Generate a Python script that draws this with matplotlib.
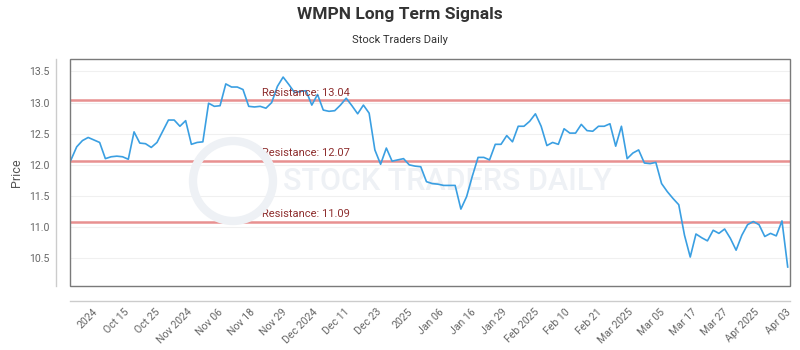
import numpy as np
import matplotlib
matplotlib.use("Agg")
import matplotlib.pyplot as plt
from matplotlib.patches import Circle, Rectangle
import matplotlib.transforms as mtrans

plt.rcParams['font.family'] = ['Roboto', 'DejaVu Sans']

title = "WMPN Long Term Signals"
subtitle = "Stock Traders Daily"
y_label = "Price"

prices = [
    12.08, 12.29, 12.39, 12.44, 12.40, 12.36, 12.10, 12.13, 12.14, 12.13,
    12.09, 12.53, 12.35, 12.34, 12.28, 12.36, 12.54, 12.72, 12.72, 12.62,
    12.71, 12.33, 12.36, 12.37, 12.99, 12.94, 12.95, 13.30, 13.25, 13.25,
    13.21, 12.94, 12.93, 12.94, 12.91, 13.00, 13.26, 13.41, 13.29, 13.16,
    13.18, 13.19, 12.96, 13.13, 12.88, 12.86, 12.87, 12.96, 13.07, 12.95,
    12.82, 12.96, 12.83, 12.24, 12.01, 12.27, 12.06, 12.08, 12.10, 12.00,
    11.98, 11.97, 11.73, 11.70, 11.69, 11.67, 11.67, 11.67, 11.29, 11.49,
    11.82, 12.12, 12.12, 12.08, 12.33, 12.33, 12.47, 12.37, 12.62, 12.62,
    12.70, 12.82, 12.62, 12.31, 12.36, 12.33, 12.58, 12.51, 12.51, 12.65,
    12.55, 12.54, 12.62, 12.62, 12.66, 12.30, 12.62, 12.10, 12.19, 12.24,
    12.03, 12.02, 12.04, 11.70, 11.57, 11.46, 11.36, 10.87, 10.52, 10.89,
    10.83, 10.78, 10.95, 10.90, 10.97, 10.82, 10.63, 10.87, 11.04, 11.09,
    11.04, 10.85, 10.90, 10.86, 11.10, 10.36,
]

resistance_levels = [13.04, 12.07, 11.09]

x_tick_labels = [
    "2024", "Oct 15", "Oct 25", "Nov 2024", "Nov 06", "Nov 18", "Nov 29",
    "Dec 2024", "Dec 11", "Dec 23", "2025", "Jan 06", "Jan 16", "Jan 29",
    "Feb 2025", "Feb 10", "Feb 21", "Mar 2025", "Mar 05", "Mar 17", "Mar 27",
    "Apr 2025", "Apr 03",
]
y_ticks = [10.5, 11.0, 11.5, 12.0, 12.5, 13.0, 13.5]

W, H = 800, 350
fig = plt.figure(figsize=(W / 100, H / 100), dpi=100)
fig.patch.set_facecolor('white')

L, R, T, B = 70, 790, 59, 286
ax = fig.add_axes([L / W, 1 - B / H, (R - L) / W, (B - T) / H])

# spines first (set_position resets ticks)
for s in ['top', 'right']:
    ax.spines[s].set_visible(False)
ax.spines['left'].set_position(('outward', 10))
ax.spines['bottom'].set_position(('outward', 11))
for s in ['left', 'bottom']:
    ax.spines[s].set_color('#cccccc')
    ax.spines[s].set_linewidth(1.0)

x = np.arange(len(prices))
n = len(prices)
ax.plot(x, prices, color='#3a9fe2', lw=1.2, zorder=5)

for lvl in resistance_levels:
    ax.axhline(lvl, color='#e89090', lw=1.8, zorder=3)
    ax.text(0.266, lvl + 0.035, f"Resistance: {lvl:.2f}",
            transform=mtrans.blended_transform_factory(ax.transAxes, ax.transData),
            color='#8e2f2f', fontsize=8, va='bottom', ha='left', zorder=6)

ax.set_xlim(-0.17, n - 1 + 0.4)
ax.set_ylim(10.055, 13.70)

ax.set_yticks(y_ticks)
ax.set_yticklabels([f"{v:.1f}" for v in y_ticks])
ax.yaxis.grid(True, color='#f0f0f0', lw=0.8, zorder=0)
ax.set_axisbelow(True)

ax.set_xticks(np.linspace(3.66, n - 1.3, len(x_tick_labels)))
ax.set_xticklabels(x_tick_labels)
ax.tick_params(axis='both', length=0, colors='#666666', labelsize=7.6)
ax.tick_params(axis='y', pad=5)
ax.tick_params(axis='x', pad=4)
for lab in ax.get_xticklabels():
    lab.set_rotation(45)
    lab.set_ha('right')
    lab.set_va('top')
    lab.set_rotation_mode('anchor')

box = Rectangle((0, 0), 1, 1, transform=ax.transAxes, fill=False,
                edgecolor='#7a7a7a', lw=1.0, clip_on=False, zorder=7)
ax.add_patch(box)

ax.set_ylabel(y_label, color='#555555', fontsize=9, labelpad=4)

# watermark
wm_col = '#eef1f5'
ring = Circle((233, H - 181), 40, transform=None, fill=False,
              edgecolor=wm_col, lw=6, zorder=1)
fig.patches.append(ring)
ax.text(447 / W, 1 - 181 / H, "STOCK TRADERS DAILY", transform=fig.transFigure,
        color=wm_col, fontsize=22, ha='center', va='center', zorder=1,
        fontweight='medium')

fig.text(0.5, 1 - 15 / H, title, ha='center', va='center', fontsize=12.5,
         fontweight='bold', color='#333333')
fig.text(0.5, 1 - 40 / H, subtitle, ha='center', va='center', fontsize=8,
         color='#333333')

fig.savefig("out.png", dpi=100, facecolor='white')
